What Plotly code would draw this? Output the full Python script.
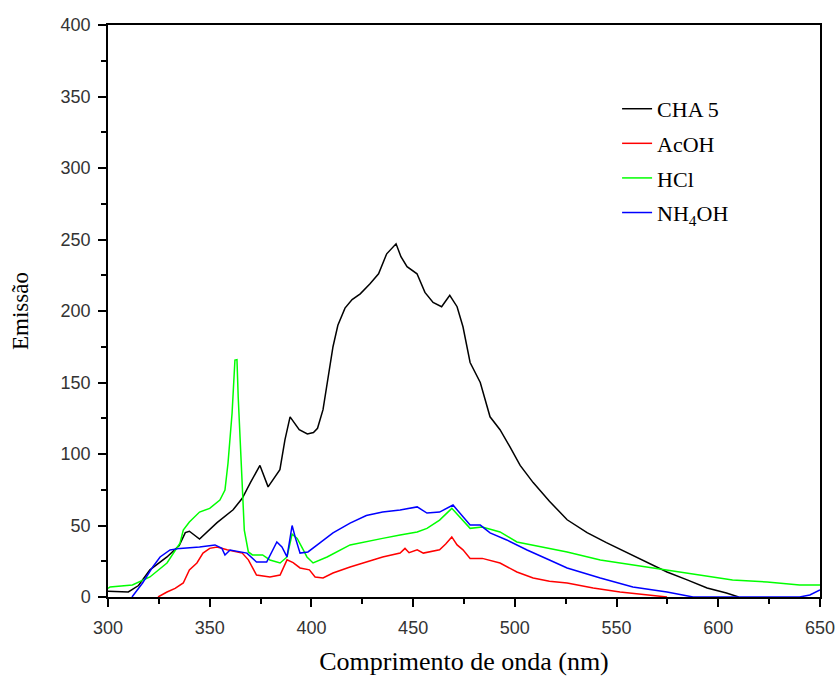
import plotly.graph_objects as go

# ---- data ----
cha5_x = [300, 305, 310, 315, 320.6, 329, 335, 338, 340, 345, 353.6, 361.5, 366, 370, 374.7, 378.7, 384.5, 387,
          389.5, 394, 398, 401, 403, 405.7, 407.7, 410.6, 413, 416.5, 420, 424, 428.8, 433, 437, 441.6, 444, 447,
          451.9, 455.8, 459.8, 464, 466, 468, 471.6, 474.5, 478, 483, 487.8, 492.7, 497.6, 502.6, 509, 517, 525.7,
          535.5, 545, 555, 565, 574.8, 584.7, 594.5, 604, 610]
cha5_y = [4, 3.5, 3.5, 8, 19, 28, 36, 45, 46, 40.5, 52, 61, 69, 80, 92, 77, 89, 110,
          126, 117, 114, 115, 118, 131, 150, 175, 190, 202, 208, 212, 219, 226, 240, 247, 238, 231,
          226, 213, 206, 203, 207, 211, 203, 189, 164, 150, 126, 117, 105, 92, 80, 67, 54,
          45, 38, 31, 24.5, 17.5, 12, 6.3, 2.8, 0]

acoh_x = [324.6, 329, 333, 337, 340, 343.7, 346.7, 350, 353.6, 358.5, 366, 369, 373, 379.6, 384.6, 388, 391,
          394.4, 399, 401.8, 405.7, 410.6, 419, 427, 435, 443.6, 446, 448, 452, 455, 463, 466, 469, 471.6, 474.5,
          478, 484, 492.7, 501, 509, 517, 525.7, 538.5, 551.7, 565, 574.8]
acoh_y = [0, 3.5, 6, 9.8, 19, 23.8, 30.7, 34, 35, 33, 30.7, 26, 15.4, 14, 15.4, 26, 24,
          20.3, 19, 14, 13.3, 16.8, 21, 24.5, 28, 30.7, 34, 31, 33, 30.7, 33, 37, 42, 36.4, 33,
          27, 27, 23.8, 17.5, 13.3, 11, 9.8, 6.3, 3.5, 1.4, 0]

hcl_x = [300, 301, 312, 320.6, 329, 335.4, 337, 340, 345, 350, 355, 357.5, 359, 361, 362.4, 363.4, 364, 366,
         367, 369, 371, 376, 379.6, 384.6, 388, 390.5, 393, 396, 397.8, 400.8, 407.7, 419, 427, 435, 443.6,
         452, 456.8, 463, 469, 473, 478, 484, 492.7, 501, 509, 517, 525.7, 542, 558, 574.8, 591, 607, 624,
         640, 650]
hcl_y = [6, 7, 8.4, 14, 23.8, 37.7, 46.8, 52.4, 59.4, 62, 67.8, 74.8, 93.7, 128.7, 165.7, 166, 140, 81.8,
         46.8, 31.5, 29.4, 29.4, 25.9, 23.8, 28, 44, 41, 33, 28, 23.8, 28, 36.4, 38.5, 41, 43.4,
         45.5, 48, 53.8, 62, 56, 48, 49, 45.5, 38.5, 36.4, 34, 31.5, 25.9, 22.4, 18.9, 15.4, 11.9, 10.5,
         8.4, 8.4]

nh4oh_x = [311.8, 317, 322, 325.6, 330.5, 335.4, 345, 352.6, 356, 357.5, 360, 368.3, 373, 378, 383, 385.5,
           388, 390.5, 392, 394.4, 398.3, 400.8, 404, 410.6, 419, 427, 435, 443.6, 452, 456.8, 463, 469.6,
           474.5, 478, 483, 487.8, 496, 506, 517, 525.7, 542, 558, 574.8, 587.6, 600, 620, 640, 645, 650]
nh4oh_y = [0, 9.8, 21, 28, 32.9, 34, 35, 36.4, 34, 29.4, 32.9, 30.7, 24.5, 24.5, 38.5, 35,
           28, 50, 42, 30.7, 31.5, 34, 37.7, 44.8, 51.7, 57, 59.4, 60.8, 63, 58.7, 59.4, 64.3,
           56, 50.3, 50.3, 44.8, 39.9, 32.9, 25.9, 20.3, 13.3, 7, 3.5, 0, 0, 0, 0, 1.4, 5]

series_names = ["CHA 5", "AcOH", "HCl", "NH<sub>4</sub>OH"]
series_colors = ["#000000", "#FF0000", "#00FF00", "#0000FF"]
x_ticks = [300, 350, 400, 450, 500, 550, 600, 650]
y_ticks = [0, 50, 100, 150, 200, 250, 300, 350, 400]

fig = go.Figure()
for i, (xs, ys) in enumerate([(cha5_x, cha5_y), (acoh_x, acoh_y), (hcl_x, hcl_y), (nh4oh_x, nh4oh_y)]):
    fig.add_trace(go.Scatter(x=xs, y=ys, mode="lines", name=series_names[i],
                             line=dict(color=series_colors[i], width=1.5),
                             legendgroup=str(i)))

axis_common = dict(
    showgrid=False, zeroline=False, showline=True, linecolor="black", linewidth=1.5,
    mirror=True, ticks="outside", ticklen=8, tickwidth=1.5, tickcolor="black",
    tickfont=dict(family="Liberation Sans", size=18, color="#333333"),
    minor=dict(ticks="outside", ticklen=5, tickwidth=1.5, tickcolor="black"),
    automargin=False,
)

fig.update_xaxes(range=[300, 650], tickvals=x_ticks, minor_dtick=25, ticklabelstandoff=6,
                 title=dict(text="Comprimento de onda (nm)", standoff=14,
                            font=dict(family="Liberation Serif", size=26, color="black")),
                 **axis_common)
fig.update_yaxes(range=[0, 400], tickvals=y_ticks, minor_dtick=25, ticklabelstandoff=4,
                 title=dict(text="Emissão", standoff=26,
                            font=dict(family="Liberation Serif", size=23, color="black")),
                 **axis_common)

fig.update_layout(
    width=839, height=684,
    margin=dict(l=108, r=19, t=25, b=87),
    plot_bgcolor="white", paper_bgcolor="white",
    legend=dict(x=0.715, y=0.89, xanchor="left", yanchor="top",
                font=dict(family="Liberation Serif", size=22, color="black"),
                bgcolor="rgba(0,0,0,0)", traceorder="grouped", tracegroupgap=3),
    showlegend=True,
)

fig.write_html("out.html")
